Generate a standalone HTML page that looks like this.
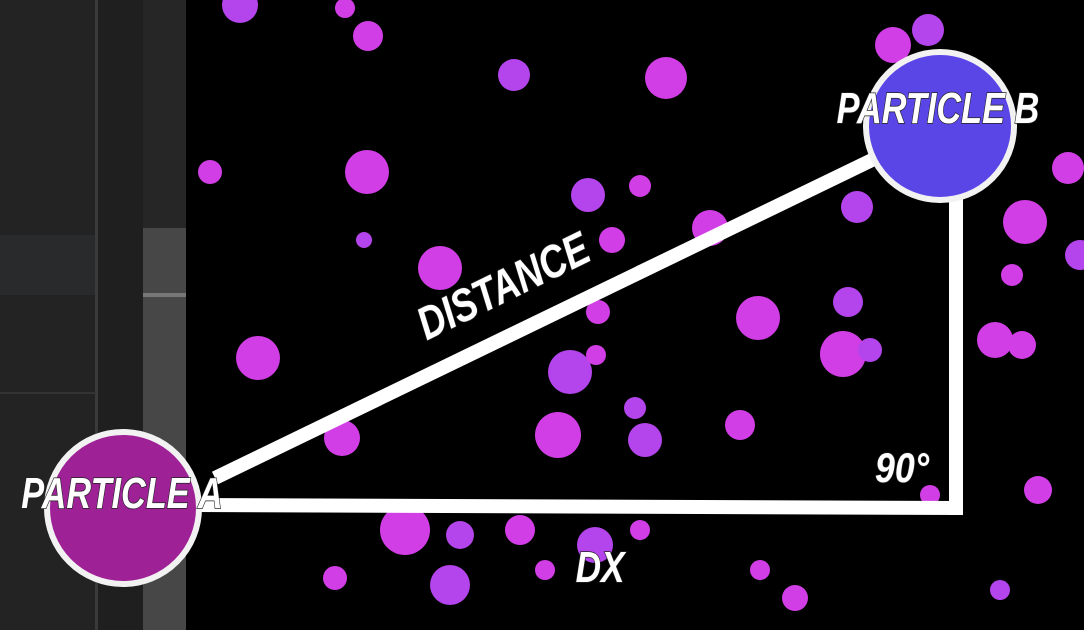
<!DOCTYPE html>
<html><head><meta charset="utf-8"><style>
html,body{margin:0;padding:0;background:#000;width:1084px;height:630px;overflow:hidden}
svg{display:block}
.lbl{font-family:"Liberation Sans",sans-serif;font-weight:bold;font-style:italic;fill:#fff;stroke:#222;stroke-width:1.5;paint-order:stroke}
</style></head><body>
<svg width="1084" height="630" viewBox="0 0 1084 630">
<rect x="0" y="0" width="1084" height="630" fill="#000"/>
<g>
<rect x="0" y="0" width="96" height="630" fill="#232323"/>
<rect x="0" y="235" width="96" height="60" fill="#282a2c"/>
<rect x="95" y="0" width="3" height="630" fill="#3a3a3a"/>
<rect x="98" y="0" width="45" height="630" fill="#1f1f1f"/>
<rect x="143" y="0" width="43" height="228" fill="#262626"/>
<rect x="143" y="228" width="43" height="402" fill="#474747"/>
<rect x="143" y="293" width="43" height="4" fill="#777"/>
<rect x="0" y="392" width="96" height="2" fill="#333"/>
</g>
<g id="bubbles"></g>
<g>
<line x1="215" y1="478" x2="872" y2="160" stroke="#fff" stroke-width="14"/>
<line x1="195" y1="505" x2="962" y2="508" stroke="#fff" stroke-width="14"/>
<line x1="956" y1="190" x2="956" y2="515" stroke="#fff" stroke-width="14"/>
</g>
<circle cx="123" cy="508" r="76" fill="#9e2196" stroke="#f2f2f2" stroke-width="6"/>
<circle cx="940" cy="126" r="74" fill="#5a46e6" stroke="#f2f2f2" stroke-width="6"/>
<text class="lbl" x="122" y="508" font-size="44" text-anchor="middle" transform="translate(122,508) scale(0.78,1) translate(-122,-508)">PARTICLE A</text>
<text class="lbl" x="938" y="123" font-size="44" text-anchor="middle" transform="translate(938,123) scale(0.78,1) translate(-938,-123)">PARTICLE B</text>
<text class="lbl" x="0" y="0" font-size="46" text-anchor="middle" transform="translate(510,300) rotate(-26) scale(0.8,1)">DISTANCE</text>
<text class="lbl" x="0" y="0" font-size="44" text-anchor="middle" transform="translate(600,582) scale(0.8,1)">DX</text>
<text class="lbl" x="0" y="0" font-size="42" text-anchor="middle" transform="translate(902,482) scale(0.85,1)">90°</text>
</svg>
<script>
const bx=[240,345,368,514,666,893,928,210,367,588,640,710,857,1068,1025,364,440,612,1080,1012,758,848,598,258,570,596,843,870,995,1022,635,740,558,645,342,405,460,520,640,595,1038,335,450,760,795,1000,930,545];
const by=[5,8,36,75,78,45,30,172,172,195,186,228,207,168,222,240,268,240,255,275,318,302,312,358,372,355,354,350,340,345,408,425,435,440,438,530,535,530,530,545,490,578,585,570,598,590,495,570];
const br=[18,10,15,16,21,18,16,12,22,17,11,18,16,16,22,8,22,13,15,11,22,15,12,22,22,10,23,12,18,14,11,15,23,17,18,25,14,15,10,18,14,12,20,10,13,10,10,10];
const g=document.getElementById('bubbles');
for(let i=0;i<bx.length;i++){
 const c=document.createElementNS('http://www.w3.org/2000/svg','circle');
 c.setAttribute('cx',bx[i]);c.setAttribute('cy',by[i]);c.setAttribute('r',br[i]);
 c.setAttribute('fill',i%3===0?'#b444ec':'#d23ee6');
 
 
 g.appendChild(c);
}
</script>
</body></html>
